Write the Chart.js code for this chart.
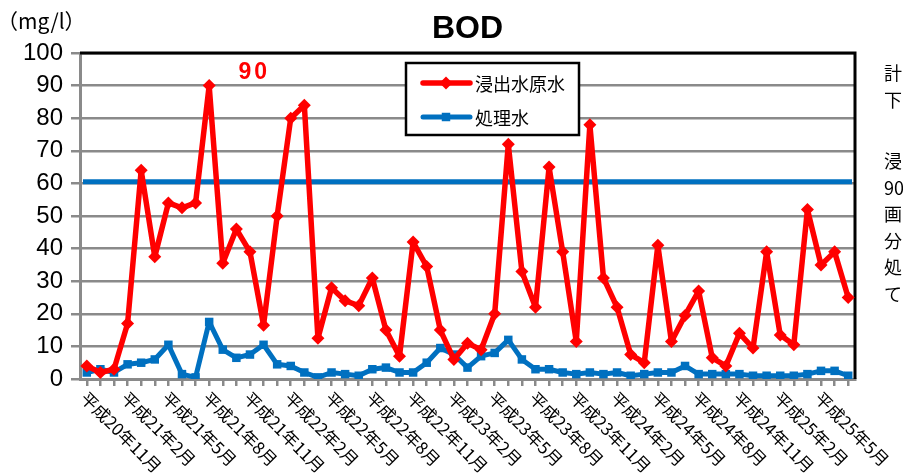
<!DOCTYPE html>
<html lang="ja">
<head>
<meta charset="utf-8">
<title>BOD</title>
<script src="https://cdn.jsdelivr.net/npm/chart.js@4.4.1/dist/chart.umd.min.js"></script>
<style>
  body { margin: 0; background: #fff; }
  #wrap { position: relative; width: 903px; height: 476px; overflow: hidden; }
  .note { position: absolute; left: 884px; font-size: 18px; line-height: 26.5px;
          font-family: "Noto Sans CJK JP", sans-serif; color: #000; white-space: nowrap; }
</style>
</head>
<body>
<div id="wrap">
  <canvas id="bodChart" width="903" height="476"></canvas>
  <div class="note" style="top: 59px;">計<br>下</div>
  <div class="note" style="top: 147px;">浸<br>90<br>画<br>分<br>処<br>て</div>
</div>
<script>
// monthly samples, H20/11 - H25/7
const months = [
  '平成20年11月', '平成20年12月',
  '平成21年1月', '平成21年2月', '平成21年3月', '平成21年4月', '平成21年5月', '平成21年6月',
  '平成21年7月', '平成21年8月', '平成21年9月', '平成21年10月', '平成21年11月', '平成21年12月',
  '平成22年1月', '平成22年2月', '平成22年3月', '平成22年4月', '平成22年5月', '平成22年6月',
  '平成22年7月', '平成22年8月', '平成22年9月', '平成22年10月', '平成22年11月', '平成22年12月',
  '平成23年1月', '平成23年2月', '平成23年3月', '平成23年4月', '平成23年5月', '平成23年6月',
  '平成23年7月', '平成23年8月', '平成23年9月', '平成23年10月', '平成23年11月', '平成23年12月',
  '平成24年1月', '平成24年2月', '平成24年3月', '平成24年4月', '平成24年5月', '平成24年6月',
  '平成24年7月', '平成24年8月', '平成24年9月', '平成24年10月', '平成24年11月', '平成24年12月',
  '平成25年1月', '平成25年2月', '平成25年3月', '平成25年4月', '平成25年5月', '平成25年6月',
  '平成25年7月'
];

// 浸出水原水 (mg/l)
const rawWater = [
  4, 2, 3, 17, 64, 37.5, 54, 52.5, 54, 90, 35.5, 46, 39, 16.5, 50, 80, 84, 12.5,
  28, 24, 22.5, 31, 15, 7, 42, 34.5, 15, 6, 11, 9, 20, 72, 33, 22, 65, 39, 11.5,
  78, 31, 22, 7.5, 5, 41, 11.5, 19.5, 27, 6.5, 4, 14, 9.5, 39, 13.5, 10.5, 52, 35, 39, 25
];

// 処理水 (mg/l)
const treatedWater = [
  2, 3, 2, 4.5, 5, 6, 10.5, 1.5, 0.5, 17.5, 9, 6.5, 7.5, 10.5, 4.5, 4, 2, 0.5,
  2, 1.5, 1, 3, 3.5, 2, 2, 5, 9.5, 7.5, 3.5, 7, 8, 12, 6, 3, 3, 2, 1.5,
  2, 1.5, 2, 1, 1.5, 2, 2, 4, 1.5, 1.5, 1.5, 1.5, 1, 1, 1, 1, 1.5, 2.5, 2.5, 1
];

const yMin = 0, yMax = 100, yStep = 10;
const limitValue = 60.5;   // 基準値ライン
const labelEvery = 3;      // x軸ラベルは3か月ごと

const RED = '#ff0000';
const BLUE = '#0070c0';
const GRID = '#8a8a8a';
const JP = '"Noto Sans CJK JP", sans-serif';

const extras = {
  id: 'extras',
  beforeDatasetsDraw(chart) {
    const ctx = chart.ctx, a = chart.chartArea, y = chart.scales.y;
    ctx.save();
    // limit line
    const ly = y.getPixelForValue(limitValue);
    ctx.strokeStyle = BLUE;
    ctx.lineWidth = 5;
    ctx.beginPath();
    ctx.moveTo(a.left + 3, ly);
    ctx.lineTo(a.right - 3, ly);
    ctx.stroke();
    // plot frame, top and right
    ctx.strokeStyle = '#000';
    ctx.lineWidth = 3;
    ctx.beginPath();
    ctx.moveTo(a.left, a.top);
    ctx.lineTo(a.right, a.top);
    ctx.lineTo(a.right, a.bottom);
    ctx.stroke();
    ctx.restore();
  },
  afterDatasetsDraw(chart) {
    // peak value label
    const ctx = chart.ctx;
    const pts = chart.getDatasetMeta(0).data;
    let iMax = 0;
    rawWater.forEach((v, i) => { if (v > rawWater[iMax]) iMax = i; });
    const p = pts[iMax];
    ctx.save();
    ctx.fillStyle = RED;
    ctx.font = 'bold 23px "Liberation Sans", Arial, sans-serif';
    ctx.letterSpacing = '3px';
    ctx.textAlign = 'center';
    ctx.textBaseline = 'middle';
    ctx.fillText(String(rawWater[iMax]), p.x + 45, p.y - 13);
    ctx.restore();
  },
  afterDraw(chart) {
    const ctx = chart.ctx, a = chart.chartArea, x = chart.scales.x;
    ctx.save();

    // title and unit
    ctx.fillStyle = '#000';
    ctx.font = 'bold 32px "Liberation Sans", Arial, sans-serif';
    ctx.textAlign = 'center';
    ctx.textBaseline = 'middle';
    ctx.fillText('BOD', (a.left + a.right) / 2, 29);
    ctx.font = '21px ' + JP;
    ctx.textAlign = 'left';
    ctx.fillText('（mg/l）', -3, 21);

    // slanted month labels
    ctx.font = '17px ' + JP;
    ctx.textAlign = 'left';
    ctx.textBaseline = 'top';
    for (let i = 0; i < months.length; i += labelEvery) {
      const px = x.getPixelForValue(i);
      ctx.save();
      ctx.translate(px + 3, a.bottom + 10);
      ctx.rotate(Math.PI / 4);
      ctx.fillText(months[i], 0, 0);
      ctx.restore();
    }

    // legend box
    const bx = a.left + 326, by = a.top + 10, bw = 173, bh = 72;
    ctx.fillStyle = '#fff';
    ctx.fillRect(bx, by, bw, bh);
    ctx.strokeStyle = '#000';
    ctx.lineWidth = 2.5;
    ctx.strokeRect(bx, by, bw, bh);
    chart.data.datasets.forEach((ds, k) => {
      const ly = by + 20 + k * 34;
      ctx.strokeStyle = ds.borderColor;
      ctx.lineWidth = ds.borderWidth;
      ctx.lineCap = 'round';
      ctx.beginPath();
      ctx.moveTo(bx + 17, ly);
      ctx.lineTo(bx + 64, ly);
      ctx.stroke();
      ctx.fillStyle = ds.borderColor;
      Chart.helpers.drawPoint(ctx, { pointStyle: ds.pointStyle, radius: ds.pointRadius, rotation: 0, borderWidth: 0 }, bx + 40, ly);
      ctx.fillStyle = '#000';
      ctx.font = '18px ' + JP;
      ctx.textAlign = 'left';
      ctx.textBaseline = 'middle';
      ctx.fillText(ds.label, bx + 69, ly + 1);
    });
    ctx.restore();
  }
};

new Chart(document.getElementById('bodChart'), {
  type: 'line',
  data: {
    labels: months,
    datasets: [
      {
        label: '浸出水原水',
        data: rawWater,
        borderColor: RED,
        backgroundColor: RED,
        borderWidth: 5.5,
        borderJoinStyle: 'round',
        pointStyle: 'rectRot',
        pointRadius: 6.5,
        pointBorderWidth: 0,
        tension: 0
      },
      {
        label: '処理水',
        data: treatedWater,
        borderColor: BLUE,
        backgroundColor: BLUE,
        borderWidth: 5,
        borderJoinStyle: 'round',
        pointStyle: 'rect',
        pointRadius: 6,
        pointBorderWidth: 0,
        tension: 0
      }
    ]
  },
  options: {
    responsive: false,
    animation: false,
    layout: { padding: { top: 53, right: 48, left: 0, bottom: 0 } },
    plugins: {
      legend: { display: false },
      title: { display: false },
      tooltip: { enabled: false }
    },
    scales: {
      x: {
        offset: true,
        ticks: { display: false, autoSkip: false },
        grid: { drawOnChartArea: false, drawTicks: true, tickLength: 7, color: GRID, lineWidth: 2.5 },
        border: { color: GRID, width: 3 },
        afterFit(scale) { scale.height = 97; }
      },
      y: {
        min: yMin,
        max: yMax,
        ticks: {
          stepSize: yStep,
          color: '#000',
          padding: 8,
          font: { family: '"Liberation Sans", Arial, sans-serif', size: 24 }
        },
        grid: { color: GRID, lineWidth: 2.5, tickLength: 9 },
        border: { color: GRID, width: 3 },
        afterFit(scale) { scale.width = 80; }
      }
    }
  },
  plugins: [extras]
});
</script>
</body>
</html>
